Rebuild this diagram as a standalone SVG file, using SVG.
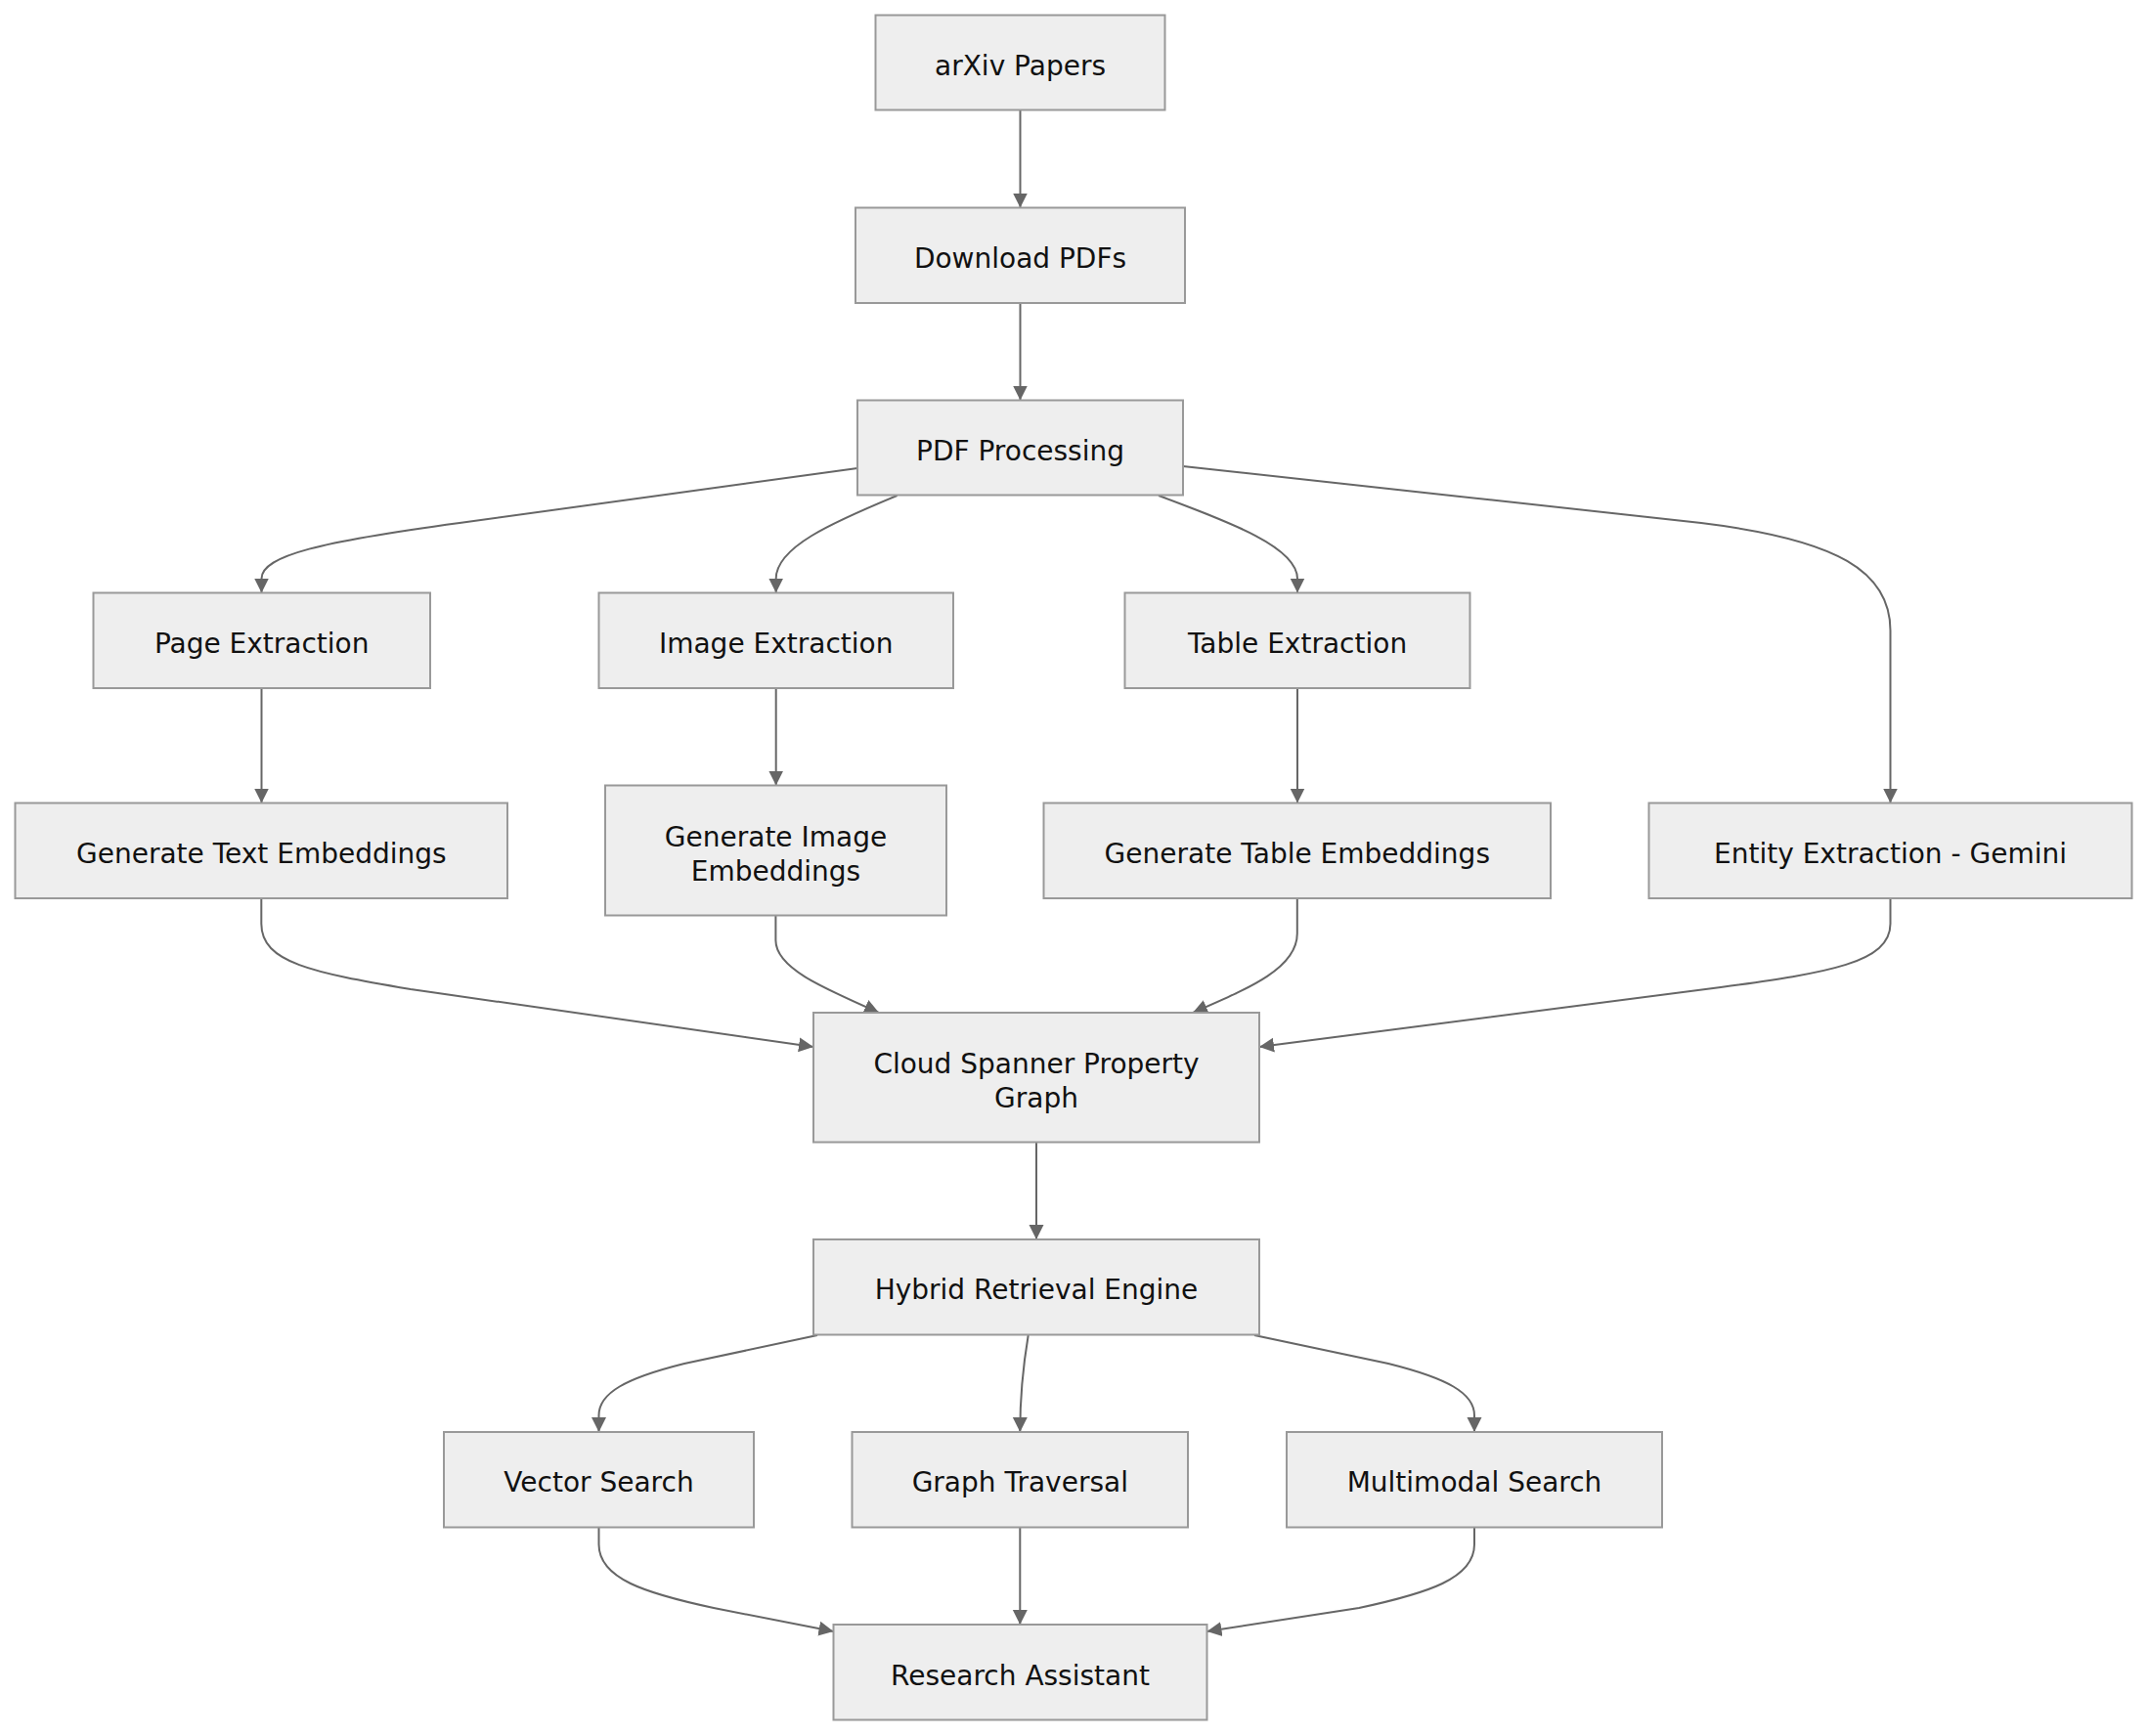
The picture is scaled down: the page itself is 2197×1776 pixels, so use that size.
<svg xmlns="http://www.w3.org/2000/svg" width="2197" height="1776" viewBox="0 0 2197 1776">
<style>
.node rect{fill:#eeeeee;stroke:#999999;stroke-width:2}
.node text{font-family:"Trebuchet MS","DejaVu Sans",sans-serif;font-size:28px;fill:#111;text-anchor:middle;dominant-baseline:central}
.edges path{fill:none;stroke:#666666;stroke-width:2;marker-end:url(#arrow)}
</style>
<defs>
<marker id="arrow" viewBox="0 0 10 10" refX="10" refY="5" markerUnits="userSpaceOnUse" markerWidth="15" markerHeight="17" orient="auto">
<path d="M0,0 L10,5 L0,10 z" fill="#666666"/>
</marker>
</defs>
<rect width="2197" height="1776" fill="#ffffff"/>
<g class="edges">
<path d="M1043.5,112.5 V212.5"/>
<path d="M1043.5,310 V409.5"/>
<path d="M877,479 L470,535 C330,554 267.5,568 267.5,592 V606.5"/>
<path d="M917.6,507 C850,535 793.7,560 793.7,592 V606.5"/>
<path d="M1185,507 C1260,535 1327,560 1327,592 V606.5"/>
<path d="M1210,477 L1740,535 C1880,552 1933.5,585 1933.5,645 V821.5"/>
<path d="M267.5,704 V821.5"/>
<path d="M793.7,704 V803.5"/>
<path d="M1327,704 V821.5"/>
<path d="M267.3,919 V945 C267.3,985 320,995 420,1012 L832,1071"/>
<path d="M793.4,936.5 V962 C793.4,990 840,1010 899,1036"/>
<path d="M1326.8,919 V955 C1326.8,990 1280,1010 1220,1036"/>
<path d="M1933.5,919 V945 C1933.5,985 1870,995 1760,1010 L1288,1071"/>
<path d="M1060,1168.5 V1268"/>
<path d="M836,1366 L700,1395 C640,1410 612.5,1425 612.5,1448 V1465"/>
<path d="M1051.7,1366 C1046,1400 1043.3,1430 1043.3,1465"/>
<path d="M1283,1366 L1420,1395 C1480,1410 1508,1425 1508,1448 V1465"/>
<path d="M612.5,1562.5 V1580 C612.5,1615 660,1630 730,1645 L852.5,1669"/>
<path d="M1043.3,1562.5 V1662"/>
<path d="M1508,1562.5 V1580 C1508,1615 1460,1630 1390,1645 L1234.5,1669"/>
</g>
<g id="arxiv" class="node"><rect x="895.5" y="15.5" width="296" height="97"/><text x="1043.5" y="67">arXiv Papers</text></g>
<g id="download" class="node"><rect x="875" y="212.5" width="337" height="97.5"/><text x="1043.5" y="264">Download PDFs</text></g>
<g id="pdfproc" class="node"><rect x="877" y="409.5" width="333" height="97"/><text x="1043.5" y="461">PDF Processing</text></g>
<g id="page" class="node"><rect x="95.5" y="606.5" width="344.5" height="97.5"/><text x="267.7" y="658">Page Extraction</text></g>
<g id="image" class="node"><rect x="612.5" y="606.5" width="362.5" height="97.5"/><text x="793.7" y="658">Image Extraction</text></g>
<g id="table" class="node"><rect x="1150.5" y="606.5" width="353" height="97.5"/><text x="1327" y="658">Table Extraction</text></g>
<g id="gentext" class="node"><rect x="15.5" y="821.5" width="503.5" height="97.5"/><text x="267.3" y="873">Generate Text Embeddings</text></g>
<g id="genimage" class="node"><rect x="619" y="803.5" width="349" height="133"/><text x="793.5" y="856">Generate Image</text><text x="793.5" y="891">Embeddings</text></g>
<g id="gentable" class="node"><rect x="1067.5" y="821.5" width="518.5" height="97.5"/><text x="1326.8" y="873">Generate Table Embeddings</text></g>
<g id="entity" class="node"><rect x="1686.5" y="821.5" width="494" height="97.5"/><text x="1933.5" y="873">Entity Extraction - Gemini</text></g>
<g id="spanner" class="node"><rect x="832" y="1036" width="456" height="132.5"/><text x="1060" y="1088">Cloud Spanner Property</text><text x="1060" y="1123">Graph</text></g>
<g id="hybrid" class="node"><rect x="832" y="1268" width="456" height="97.5"/><text x="1060" y="1319.5">Hybrid Retrieval Engine</text></g>
<g id="vector" class="node"><rect x="454" y="1465" width="317" height="97.5"/><text x="612.5" y="1516.5">Vector Search</text></g>
<g id="graph" class="node"><rect x="871.5" y="1465" width="343.5" height="97.5"/><text x="1043.3" y="1516.5">Graph Traversal</text></g>
<g id="multimodal" class="node"><rect x="1316" y="1465" width="384" height="97.5"/><text x="1508" y="1516.5">Multimodal Search</text></g>
<g id="research" class="node"><rect x="852.5" y="1662" width="382" height="97.5"/><text x="1043.5" y="1714">Research Assistant</text></g>
</svg>
